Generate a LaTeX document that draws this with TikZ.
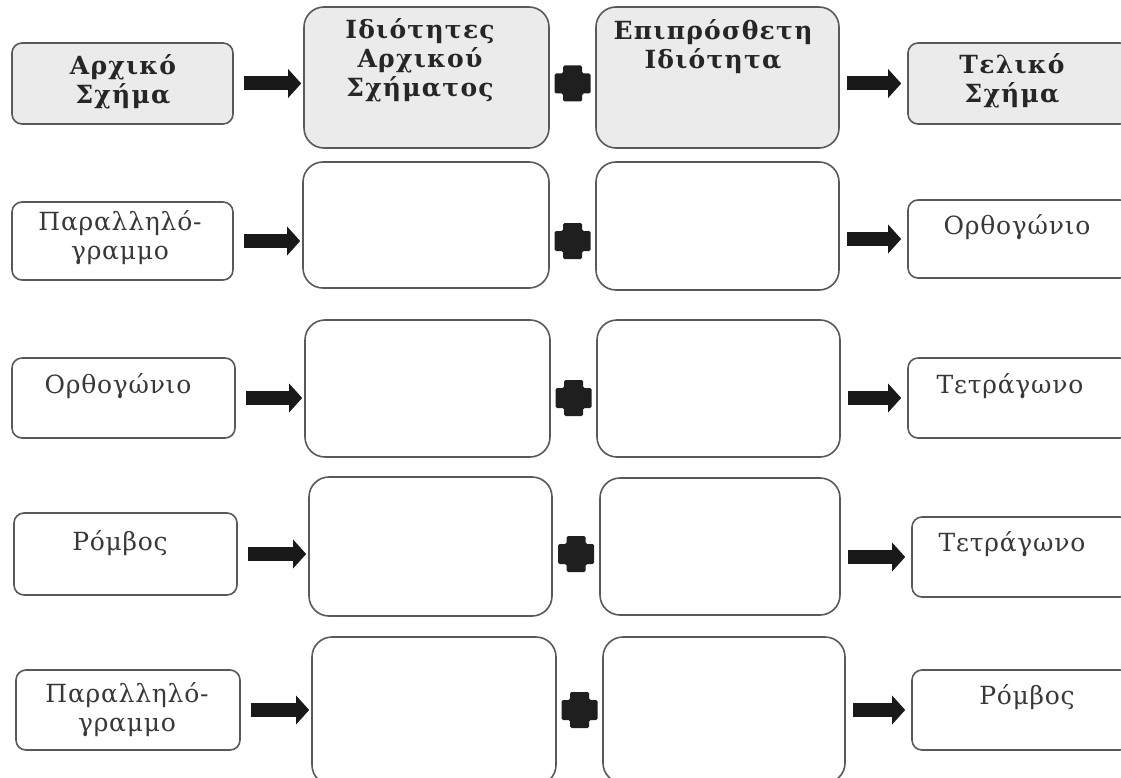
\documentclass[tikz,border=0pt]{standalone}
\usepackage{fontspec}
\setmainfont{DejaVu Serif}
\usetikzlibrary{arrows.meta,calc}
\newcommand\mkbox[6]{%
  \pgfmathsetmacro\mbcx{(#3+#5)/2}%
  \pgfmathsetmacro\mbcy{(#4+#6)/2}%
  \pgfmathsetmacro\mbw{#5-#3}%
  \pgfmathsetmacro\mbh{#6-#4}%
  \node[#1, minimum width=\mbw pt, minimum height=\mbh pt] (#2) at (\mbcx,\mbcy) {};}
\begin{document}
\begin{tikzpicture}[x=1pt,y=-1pt,
  box/.style={draw=black!65, line width=1.6pt, rounded corners=10pt, fill=white, inner sep=0pt},
  bigbox/.style={box, rounded corners=20pt},
  hdrfill/.style={fill=black!8},
  txt/.style={font=\fontsize{25}{29}\selectfont\addfontfeature{LetterSpace=3}, text=black!78, align=center, inner sep=0pt},
  hdr/.style={font=\bfseries\fontsize{25}{29}\selectfont\addfontfeature{LetterSpace=5}, text=black!85, align=center, inner sep=0pt},
  bigarrow/.style={line width=14pt, draw=black!90, -{Triangle[length=13pt 0 0, width=28pt 0 0]}},
  plussign/.pic={\fill[black!88, rounded corners=1.5pt] (-9.5,-18) -- (9.5,-18) -- (9.5,-10) -- (18,-10) -- (18,10) -- (9.5,10) -- (9.5,18) -- (-9.5,18) -- (-9.5,10) -- (-18,10) -- (-18,-10) -- (-9.5,-10) -- cycle;}
]
\clip (0,0) rectangle (1121,778);
\fill[white] (0,0) rectangle (1121,778);
% header row
\mkbox{box,hdrfill}{l1}{12}{43}{233}{124}
\mkbox{bigbox,hdrfill}{b1}{304}{7}{549}{148}
\mkbox{bigbox,hdrfill}{c1}{596}{7}{839}{148}
\mkbox{box,hdrfill}{d1}{908}{43}{1130}{124}
% row 2
\mkbox{box}{l2}{12}{202}{233}{280}
\mkbox{bigbox}{b2}{303}{162}{549}{288}
\mkbox{bigbox}{c2}{596}{162}{839}{290}
\mkbox{box}{d2}{908}{200}{1130}{278}
% row 3
\mkbox{box}{l3}{12}{358}{235}{438}
\mkbox{bigbox}{b3}{305}{320}{550}{457}
\mkbox{bigbox}{c3}{597}{320}{840}{457}
\mkbox{box}{d3}{908}{358}{1130}{438}
% row 4
\mkbox{box}{l4}{14}{513}{237}{595}
\mkbox{bigbox}{b4}{309}{477}{552}{616}
\mkbox{bigbox}{c4}{600}{478}{840}{615}
\mkbox{box}{d4}{912}{517}{1130}{597}
% row 5
\mkbox{box}{l5}{16}{670}{240}{750}
\mkbox{bigbox}{b5}{312}{637}{556}{785}
\mkbox{bigbox}{c5}{603}{637}{845}{783}
\mkbox{box}{d5}{912}{670}{1130}{750}
% texts
\node[hdr] (tl1) at (123,82) {Αρχικό\\Σχήμα};
\node[hdr] (tb1) at (420,60) {Ιδιότητες\\Αρχικού\\Σχήματος};
\node[hdr] (tc1) at (713,47) {Επιπρόσθετη\\Ιδιότητα};
\node[hdr] (td1) at (1012,81) {Τελικό\\Σχήμα};
\node[txt] (tl2) at (120,238) {Παραλληλό-\\γραμμο};
\node[txt] (td2) at (1017,227) {Ορθογώνιο};
\node[txt] (tl3) at (118,386) {Ορθογώνιο};
\node[txt] (td3) at (1010,386) {Τετράγωνο};
\node[txt] (tl4) at (120,543) {Ρόμβος};
\node[txt] (td4) at (1012,544) {Τετράγωνο};
\node[txt] (tl5) at (127,710) {Παραλληλό-\\γραμμο};
\node[txt] (td5) at (1027,697) {Ρόμβος};
% arrows and plus signs
\foreach \r in {1,...,5} {
  \draw[bigarrow, shorten <=10pt, shorten >=2pt] (l\r.east) -- (l\r.east -| b\r.west);
  \coordinate (m\r) at ($(b\r.east)!0.5!(c\r.west)$);
  \pic at (m\r |- l\r.east) {plussign};
  \draw[bigarrow, shorten <=7pt, shorten >=6pt] (c\r.east |- d\r.west) -- (d\r.west);
}
\end{tikzpicture}
\end{document}
